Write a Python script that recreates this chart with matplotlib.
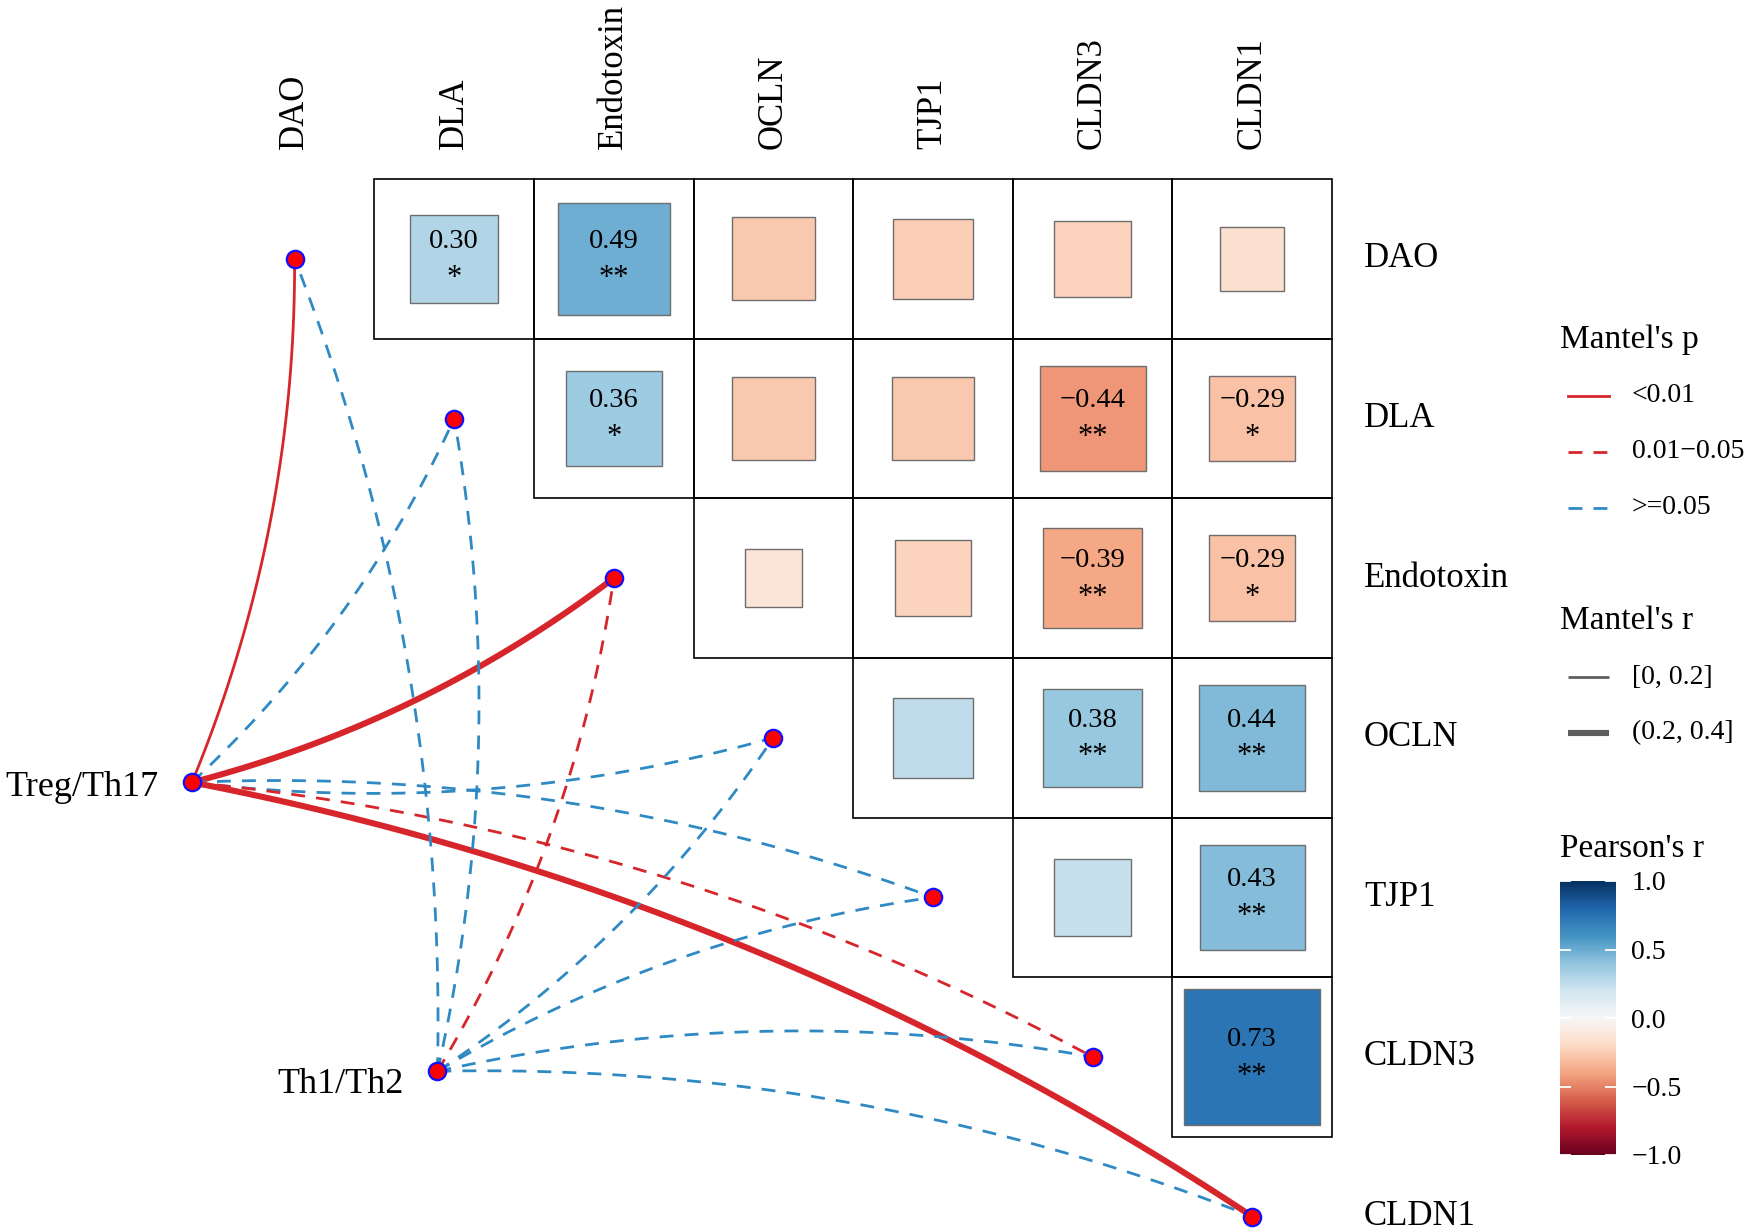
import numpy as np
import matplotlib
matplotlib.use("Agg")
import matplotlib.pyplot as plt
from matplotlib.patches import Rectangle
from matplotlib.colors import Normalize
import matplotlib.cm as cm

plt.rcParams['font.family'] = ['Liberation Serif', 'DejaVu Serif']

# ---------------- data ----------------
variables = ['DAO', 'DLA', 'Endotoxin', 'OCLN', 'TJP1', 'CLDN3', 'CLDN1']

# Pearson's r (upper triangle, row i / column j, j > i)
pearson_r = [
    [None, 0.30, 0.49, -0.27, -0.25, -0.23, -0.16],
    [None, None, 0.36, -0.27, -0.27, -0.44, -0.29],
    [None, None, None, -0.13, -0.23, -0.39, -0.29],
    [None, None, None, None, 0.25, 0.38, 0.44],
    [None, None, None, None, None, 0.23, 0.43],
    [None, None, None, None, None, None, 0.73],
    [None, None, None, None, None, None, None],
]
pearson_sig = [
    ['', '*', '**', '', '', '', ''],
    ['', '', '*', '', '', '**', '*'],
    ['', '', '', '', '', '**', '*'],
    ['', '', '', '', '', '**', '**'],
    ['', '', '', '', '', '', '**'],
    ['', '', '', '', '', '', '**'],
    ['', '', '', '', '', '', ''],
]

spec_names = ['Treg/Th17', 'Th1/Th2']
mantel_p = {
    'Treg/Th17': ['<0.01', '>=0.05', '<0.01', '>=0.05', '>=0.05', '0.01-0.05', '<0.01'],
    'Th1/Th2':   ['>=0.05', '>=0.05', '0.01-0.05', '>=0.05', '>=0.05', '>=0.05', '>=0.05'],
}
mantel_r = {
    'Treg/Th17': ['[0, 0.2]', '[0, 0.2]', '(0.2, 0.4]', '[0, 0.2]', '[0, 0.2]', '[0, 0.2]', '(0.2, 0.4]'],
    'Th1/Th2':   ['[0, 0.2]'] * 7,
}
p_levels = ['<0.01', '0.01-0.05', '>=0.05']
p_labels = ['<0.01', '0.01\u22120.05', '>=0.05']
r_levels = ['[0, 0.2]', '(0.2, 0.4]']
cbar_ticks = [-1.0, -0.5, 0.0, 0.5, 1.0]

# ---------------- styles / layout ----------------
RED = '#D7262B'
BLUE = '#2F8AC4'
p_color = {'<0.01': RED, '0.01-0.05': RED, '>=0.05': BLUE}
p_style = {'<0.01': '-', '0.01-0.05': (0, (5, 4)), '>=0.05': (0, (5, 4))}
r_width = {'[0, 0.2]': 2.0, '(0.2, 0.4]': 4.4}
node_pos = {'Treg/Th17': (-0.643, 3.28), 'Th1/Th2': (0.895, 5.09)}
node_lab_dy = {'Treg/Th17': 0.035, 'Th1/Th2': 0.085}

W, H = 1750, 1231
cell_px = 159.6
x0_px, y0_px = 294.6, 258.9

fig = plt.figure(figsize=(W / 100, H / 100), dpi=100)
ax = fig.add_axes([0, 0, 1, 1])
ax.set_xlim(-x0_px / cell_px, (W - x0_px) / cell_px)
ax.set_ylim((H - y0_px) / cell_px, -y0_px / cell_px)
ax.axis('off')

cmap = plt.get_cmap('RdBu')
norm = Normalize(-1, 1)
n = len(variables)

# grid + squares
for i in range(n):
    for j in range(n):
        r = pearson_r[i][j]
        if r is None:
            continue
        ax.add_patch(Rectangle((j - 0.5, i - 0.5), 1, 1, fill=False,
                               edgecolor='black', lw=1.2, zorder=3))
        s = np.sqrt(abs(r))
        ax.add_patch(Rectangle((j - s / 2, i - s / 2), s, s,
                               facecolor=cmap(norm(r)), edgecolor='#6E6E6E',
                               lw=1.0, zorder=4))
        if pearson_sig[i][j]:
            ax.text(j, i - 0.11, f"{r:.2f}".replace('-', '\u2212'),
                    ha='center', va='center', fontsize=20.5, zorder=5)
            ax.text(j, i + 0.12, pearson_sig[i][j], ha='center', va='center',
                    fontsize=22, zorder=5)

# axis labels
for k, v in enumerate(variables):
    ax.text(k, -0.69, v, rotation=90, ha='center', va='bottom', fontsize=25)
    ax.text(6.70, k, v, ha='left', va='center', fontsize=25)

# links
def bezier(p0, p1, sgn, c=0.1, npts=80):
    p0 = np.asarray(p0, float)
    p1 = np.asarray(p1, float)
    d = p1 - p0
    ctrl = (p0 + p1) / 2 + sgn * c * np.array([-d[1], d[0]])
    t = np.linspace(0, 1, npts)[:, None]
    return (1 - t) ** 2 * p0 + 2 * (1 - t) * t * ctrl + t ** 2 * p1

for sp in spec_names:
    p0 = node_pos[sp]
    for k, v in enumerate(variables):
        pc = mantel_p[sp][k]
        rc = mantel_r[sp][k]
        sgn = 1 if k < n / 2 else -1
        pts = bezier(p0, (k, k), sgn)
        ax.plot(pts[:, 0], pts[:, 1], color=p_color[pc], ls=p_style[pc],
                lw=r_width[rc], solid_capstyle='butt', zorder=2)

# nodes
for k in range(n):
    ax.plot(k, k, 'o', ms=12.5, mfc='#FF0000', mec='#1010FF', mew=1.6, zorder=6)
for sp in spec_names:
    x, y = node_pos[sp]
    ax.plot(x, y, 'o', ms=12.5, mfc='#FF0000', mec='#1010FF', mew=1.6, zorder=6)
    ax.text(x - 0.21, y + node_lab_dy[sp], sp, ha='right', va='center', fontsize=26)

# legends (overlay in pixel units)
lax = fig.add_axes([0, 0, 1, 1], facecolor='none')
lax.set_xlim(0, W)
lax.set_ylim(H, 0)
lax.axis('off')

lax.text(1560, 340, "Mantel's p", ha='left', va='center', fontsize=24)
for lvl, lab, yy in zip(p_levels, p_labels, [396, 452, 508]):
    lax.plot([1568, 1609], [yy, yy], color=p_color[lvl], ls=p_style[lvl], lw=2.0)
    lax.text(1632, yy, lab, ha='left', va='center', fontsize=20)

lax.text(1560, 621, "Mantel's r", ha='left', va='center', fontsize=24)
for lvl, yy in zip(r_levels, [677, 733]):
    lax.plot([1568, 1609], [yy, yy], color='#5E5E5E', lw=r_width[lvl],
             solid_capstyle='butt')
    lax.text(1632, yy, lvl, ha='left', va='center', fontsize=20)

lax.text(1560, 849, "Pearson's r", ha='left', va='center', fontsize=24)

cax = fig.add_axes([1560 / W, (H - 1155) / H, 56 / W, 274 / H])
sm = cm.ScalarMappable(norm=norm, cmap=cmap)
cb = fig.colorbar(sm, cax=cax, ticks=cbar_ticks)
cb.outline.set_visible(False)
cax.tick_params(which='major', direction='in', length=8, width=1.3,
                color='white', left=True, right=True, labelsize=20, pad=11)
cax.set_yticklabels([f"{t:.1f}".replace('-', '\u2212') for t in cbar_ticks])

fig.savefig('out.png', dpi=100)
